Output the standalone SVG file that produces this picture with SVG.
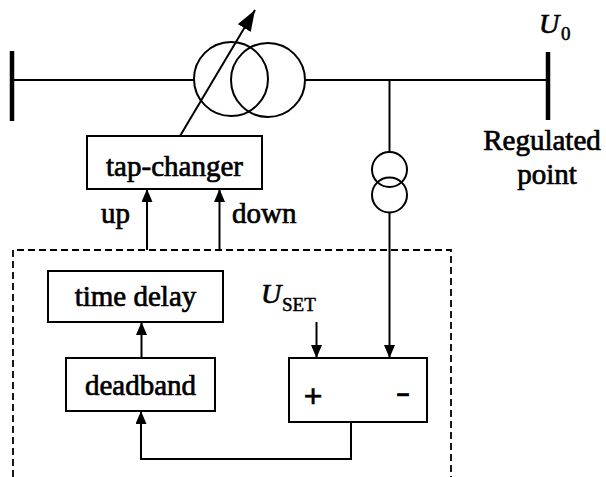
<svg xmlns="http://www.w3.org/2000/svg" width="606" height="477" viewBox="0 0 606 477">
<style>
  .ln{fill:none;stroke:#000;stroke-width:2}
  .bus{fill:none;stroke:#000;stroke-width:4.5}
  .box{fill:#fff;stroke:#000;stroke-width:2}
  .t{font-family:"Liberation Serif","Times New Roman",serif;font-size:29px;fill:#000;stroke:#000;stroke-width:0.7}
  .c{text-anchor:middle}
  .it{font-style:italic}
  .sub{font-size:19px;stroke-width:0.5}
  .big{font-size:28px}
  .s{font-family:"Liberation Sans",Arial,sans-serif;fill:#000;stroke:#000;stroke-width:0.6}
</style>
<defs>
  <marker id="ah" markerUnits="userSpaceOnUse" markerWidth="13" markerHeight="11" refX="13" refY="5.5" orient="auto">
    <path d="M0,0 L13,5.5 L0,11 z" fill="#000"/>
  </marker>
  <marker id="ahb" markerUnits="userSpaceOnUse" markerWidth="21" markerHeight="15" refX="21" refY="7.5" orient="auto">
    <path d="M0,0 L21,7.5 L0,15 z" fill="#000"/>
  </marker>
</defs>
<rect width="606" height="477" fill="#fff"/>

<g id="controller">
  <path d="M13,477 V250 H451 V477" fill="none" stroke="#000" stroke-width="1.8" stroke-dasharray="7,4"/>
</g>

<g id="connectors">
  <line class="ln" x1="12" y1="80" x2="194" y2="80"/>
  <line class="ln" x1="305" y1="80" x2="548" y2="80"/>
  <line class="ln" x1="389.5" y1="80" x2="389.5" y2="152"/>
  <line class="ln" x1="389.5" y1="212.5" x2="389.5" y2="358" marker-end="url(#ah)"/>
  <line class="ln" x1="180" y1="136" x2="255" y2="10" marker-end="url(#ahb)"/>
  <line class="ln" x1="147" y1="250" x2="147" y2="189" marker-end="url(#ah)"/>
  <line class="ln" x1="219.5" y1="250" x2="219.5" y2="189" marker-end="url(#ah)"/>
  <line class="ln" x1="141.5" y1="358" x2="141.5" y2="322" marker-end="url(#ah)"/>
  <line class="ln" x1="316.5" y1="322" x2="316.5" y2="358" marker-end="url(#ah)"/>
  <path class="ln" d="M351,422 V459 H141 V411" marker-end="url(#ah)"/>
</g>

<g id="bus-left">
  <line class="bus" x1="12" y1="51" x2="12" y2="121"/>
</g>
<g id="bus-right">
  <line class="bus" x1="548" y1="52" x2="548" y2="120"/>
  <text class="t it big" x="539" y="33">U</text>
  <text class="t sub" x="561" y="40">0</text>
  <text class="t c" x="542" y="150">Regulated</text>
  <text class="t c" x="547" y="184">point</text>
</g>

<g id="transformer">
  <circle class="ln" cx="231" cy="79" r="37"/>
  <circle class="ln" cx="268" cy="80" r="37"/>
</g>

<g id="ct">
  <circle class="ln" cx="389.5" cy="169.5" r="17.5"/>
  <circle class="ln" cx="389.5" cy="195" r="17.5"/>
</g>

<g id="tap-changer">
  <rect class="box" x="87" y="136" width="175" height="53"/>
  <text class="t c" x="174.5" y="176">tap-changer</text>
</g>
<text class="t" x="101" y="223">up</text>
<text class="t" x="232" y="223">down</text>

<g id="time-delay">
  <rect class="box" x="48" y="271" width="175" height="51"/>
  <text class="t c" x="135.5" y="306">time delay</text>
</g>

<g id="deadband">
  <rect class="box" x="66" y="358" width="149" height="53"/>
  <text class="t c" x="140.5" y="395">deadband</text>
</g>

<g id="summer">
  <rect class="box" x="289" y="358" width="138" height="64"/>
  <text class="s" x="313" y="407" font-size="32" text-anchor="middle">+</text>
  <text class="s" x="403" y="403" font-size="30" text-anchor="middle" textLength="15" lengthAdjust="spacingAndGlyphs">-</text>
</g>

<g id="uset">
  <text class="t it big" x="261" y="303">U</text>
  <text class="t sub" x="282" y="311">SET</text>
</g>
</svg>
